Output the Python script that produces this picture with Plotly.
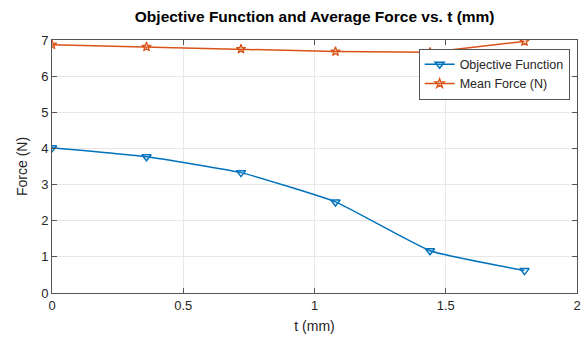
import plotly.graph_objects as go

t_mm = [0, 0.36, 0.72, 1.08, 1.44, 1.8]
objective = [4.02, 3.77, 3.33, 2.52, 1.17, 0.62]
mean_force = [6.87, 6.81, 6.75, 6.68, 6.66, 6.96]

blue = "#0072BD"
orange = "#D95319"
font = "Liberation Sans, Arial, sans-serif"

fig = go.Figure()
fig.add_trace(go.Scatter(
    x=t_mm, y=objective, mode="lines+markers", name="Objective Function",
    line=dict(color=blue, width=1.5, shape="spline", smoothing=0.4),
    marker=dict(symbol="triangle-down-open", size=8, color=blue, line=dict(width=1.5)),
))
fig.add_trace(go.Scatter(
    x=t_mm, y=mean_force, mode="lines+markers", name="Mean Force (N)",
    line=dict(color=orange, width=1.5),
    marker=dict(symbol="star-open", size=7, color=orange, line=dict(width=1.3)),
))

axis_common = dict(
    showline=True, linecolor="#555555", linewidth=1, mirror="ticks",
    ticks="inside", ticklen=5, tickcolor="#555555",
    showgrid=True, gridcolor="#e8e8e8", gridwidth=1, zeroline=False,
    tickfont=dict(family=font, size=13, color="#262626"),
    title_font=dict(family=font, size=14, color="#262626"),
    automargin=False,
)

fig.update_layout(
    width=586, height=337,
    margin=dict(l=52, r=9, t=40, b=44),
    paper_bgcolor="white", plot_bgcolor="white",
    title=dict(text="<b>Objective Function and Average Force vs. t (mm)</b>",
               x=0.537, xanchor="center", y=0.951, yanchor="middle",
               font=dict(family=font, size=15.5, color="#000000")),
    xaxis=dict(range=[0, 2], tickvals=[0, 0.5, 1, 1.5, 2], ticktext=["0", "0.5", "1", "1.5", "2"],
               title=dict(text="t (mm)", standoff=9), **axis_common),
    yaxis=dict(range=[0, 7], dtick=1, title=dict(text="Force (N)", standoff=10), **axis_common),
    legend=dict(x=0.986, y=0.966, xanchor="right", yanchor="top",
                bgcolor="white", bordercolor="#555555", borderwidth=1,
                font=dict(family=font, size=12.5, color="#262626"),
                tracegroupgap=0, itemwidth=30),
    showlegend=True,
)

fig.write_html("out.html", config={"displayModeBar": False},
               post_script="document.body.style.margin='0';")
